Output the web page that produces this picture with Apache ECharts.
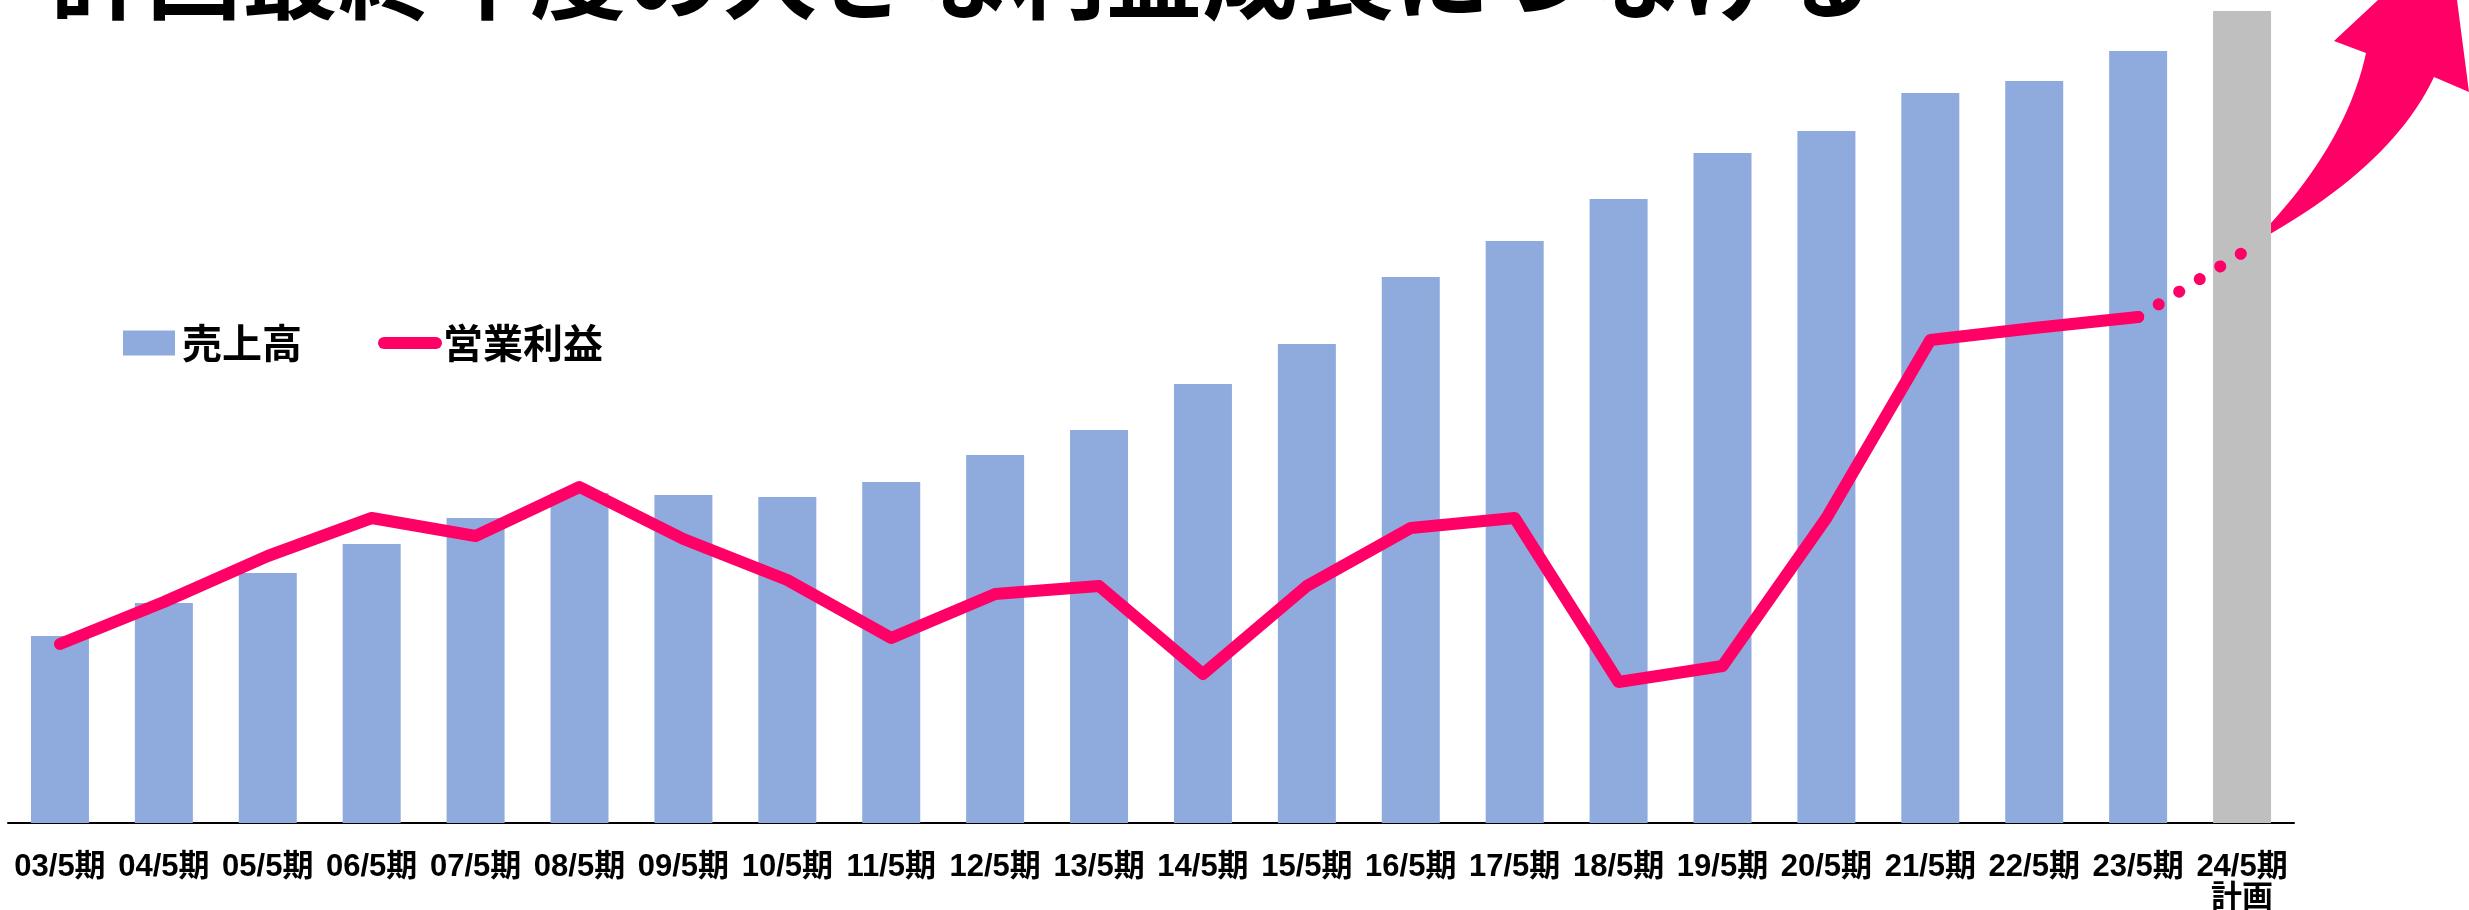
<!DOCTYPE html>
<html>
<head>
<meta charset="utf-8">
<title>売上高・営業利益推移</title>
<script src="https://cdn.jsdelivr.net/npm/echarts@6/dist/echarts.min.js"></script>
<style>
  html, body { margin: 0; padding: 0; background: #fff; }
  #chart { width: 2469px; height: 910px; }
</style>
</head>
<body>
<div id="chart"></div>
<script>
// periods (fiscal years ending May), last one is the plan
const periods = [
  '03/5期', '04/5期', '05/5期', '06/5期', '07/5期', '08/5期', '09/5期', '10/5期',
  '11/5期', '12/5期', '13/5期', '14/5期', '15/5期', '16/5期', '17/5期', '18/5期',
  '19/5期', '20/5期', '21/5期', '22/5期', '23/5期', '24/5期\n計画'
];
// 売上高 (relative scale)
const sales = [187, 220, 250, 279, 305, 330, 328, 326, 341, 368, 393, 439, 479, 546, 582, 624, 670, 692, 730, 742, 772, 812];
// 営業利益 actuals
const profit = [179, 221, 267, 305, 287, 336, 284, 243, 185, 229, 237, 149, 237, 295, 305, 141, 157, 305, 483, 495, 506, null];
// 営業利益 plan (dotted)
const profitPlan = [null, null, null, null, null, null, null, null, null, null, null, null, null, null, null, null, null, null, null, null, 506, 570];

const title = '計画最終年度の大きな利益成長につなげる';
const planIndex = periods.length - 1;

const cjkFont = "'Noto Sans CJK JP', sans-serif";
const labelFont = "'Liberation Sans', 'Noto Sans CJK JP', sans-serif";
const pink = '#FF0066';
const blue = '#8FAADC';

// decorative growth arrow outline: straight corners plus two quadratic curves
function quad(p0, c, p1, n) {
  const pts = [];
  for (let i = 1; i <= n; i++) {
    const t = i / n, u = 1 - t;
    pts.push([u * u * p0[0] + 2 * u * t * c[0] + t * t * p1[0], u * u * p0[1] + 2 * u * t * c[1] + t * t * p1[1]]);
  }
  return pts;
}
const arrowPts = [[2250, 245]]
  .concat(quad([2250, 245], [2345, 150], [2366, 53], 24))
  .concat([[2334, 41], [2378, 0], [2457, 0], [2469, 92], [2434, 77]])
  .concat(quad([2434, 77], [2390, 170], [2250, 245], 24));

const chart = echarts.init(document.getElementById('chart'));

const option = {
  animation: false,
  backgroundColor: '#fff',
  grid: { left: 8, right: 175, top: 3, bottom: 87, outerBoundsMode: 'none', containLabel: false },
  legend: [
    {
      data: ['売上高'],
      left: 123, top: 323, padding: 0,
      itemWidth: 52, itemHeight: 25,
      icon: 'rect',
      textStyle: { fontFamily: cjkFont, fontSize: 40, fontWeight: 'bold', color: '#000', padding: [0, 0, 0, 2] }
    },
    {
      data: [{ name: '営業利益', itemStyle: { color: pink, borderWidth: 0 } }],
      left: 378, top: 323, padding: 0,
      itemWidth: 64, itemHeight: 12,
      icon: 'path://M6,0 L58,0 A6,6 0 0 1 58,12 L6,12 A6,6 0 0 1 6,0 Z',
      textStyle: { fontFamily: cjkFont, fontSize: 40, fontWeight: 'bold', color: '#000', padding: [0, 0, 0, -4] }
    }
  ],
  xAxis: {
    type: 'category',
    data: periods,
    axisLine: { lineStyle: { color: '#000', width: 2 } },
    axisTick: { show: false },
    axisLabel: {
      interval: 0,
      margin: 29,
      fontFamily: labelFont,
      fontSize: 31,
      lineHeight: 31,
      fontWeight: 'bold',
      color: '#000'
    }
  },
  yAxis: {
    type: 'value',
    min: 0,
    max: 820,
    show: false,
    splitLine: { show: false }
  },
  series: [
    {
      name: '売上高',
      type: 'bar',
      barWidth: 58,
      itemStyle: { color: blue },
      data: sales.map((v, i) => i === planIndex ? { value: v, itemStyle: { color: '#BFBFBF' } } : v)
    },
    {
      name: '営業利益',
      type: 'line',
      data: profit,
      symbol: 'none',
      lineStyle: { color: pink, width: 12, cap: 'round', join: 'round' },
      itemStyle: { color: pink }
    },
    {
      name: '営業利益計画',
      type: 'line',
      data: profitPlan,
      symbol: 'none',
      lineStyle: { color: pink, width: 12, type: [0.1, 24], cap: 'round' },
      itemStyle: { color: pink }
    }
  ],
  graphic: [
    {
      type: 'text',
      x: 50,
      y: -73,
      style: {
        text: title,
        fontFamily: cjkFont,
        fontSize: 96,
        fontWeight: 'bold',
        fill: '#000'
      }
    },
    {
      type: 'polygon',
      x: 0, y: 0,
      shape: { points: arrowPts },
      style: { fill: pink }
    }
  ]
};

chart.setOption(option);
</script>
</body>
</html>
